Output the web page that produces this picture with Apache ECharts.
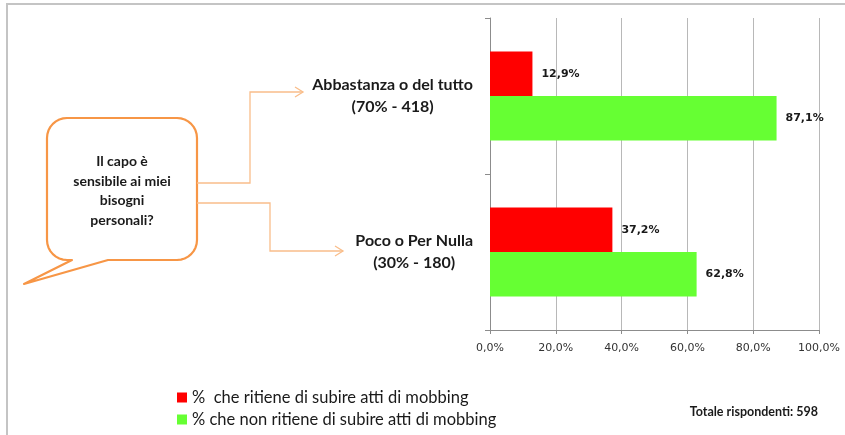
<!DOCTYPE html>
<html>
<head>
<meta charset="utf-8">
<script src="https://cdn.jsdelivr.net/npm/echarts@6/dist/echarts.min.js"></script>
<style>html,body{margin:0;padding:0;background:#fff}#c{width:845px;height:435px}</style>
</head>
<body>
<div id="c"></div>
<script>
const categories = ['Abbastanza o del tutto', 'Poco o Per Nulla'];
const categorySub = ['(70% - 418)', '(30% - 180)'];
const seriesNames = ['%  che ritiene di subire atti di mobbing', '% che non ritiene di subire atti di mobbing'];
const mobbingYes = [12.9, 37.2];
const mobbingNo = [87.1, 62.8];
const xTicks = [0, 20, 40, 60, 80, 100];
const questionText = 'Il capo è\nsensibile ai miei\nbisogni\npersonali?';
const totalText = 'Totale rispondenti: 598';

const fmt = v => v.toFixed(1).replace('.', ',') + '%';
const chart = echarts.init(document.getElementById('c'), null, {renderer: 'canvas'});
const orange = '#f79646';
const lightOrange = '#f9bd8a';

// speech bubble outline (decoration)
function arcPts(cx, cy, r, a0, a1) {
  const pts = [];
  for (let i = 0; i <= 8; i++) {
    const a = a0 + (a1 - a0) * i / 8;
    pts.push([cx + r * Math.cos(a), cy + r * Math.sin(a)]);
  }
  return pts;
}
const bx0 = 47, bx1 = 197, by0 = 118, by1 = 260, br = 20;
const bubble = [].concat(
  arcPts(bx0 + br, by0 + br, br, Math.PI, 1.5 * Math.PI),
  arcPts(bx1 - br, by0 + br, br, 1.5 * Math.PI, 2 * Math.PI),
  arcPts(bx1 - br, by1 - br, br, 0, 0.5 * Math.PI),
  [[108, by1], [24, 284], [72, by1]],
  arcPts(bx0 + br, by1 - br, br, 0.5 * Math.PI, Math.PI)
);

chart.setOption({
  animation: false,
  backgroundColor: '#fff',
  grid: {left: 490, right: 26, top: 18, bottom: 105, containLabel: false},
  xAxis: {
    type: 'value', min: xTicks[0], max: xTicks[xTicks.length - 1], interval: 20,
    axisLine: {show: true, lineStyle: {color: '#8c8c8c', width: 1}},
    axisTick: {show: true, length: 4, lineStyle: {color: '#8c8c8c'}},
    splitLine: {show: true, lineStyle: {color: '#b8b8b8', width: 1}},
    axisLabel: {formatter: v => fmt(v), fontFamily: 'DejaVu Sans', fontSize: 11, color: '#333', margin: 13}
  },
  yAxis: {
    type: 'category', inverse: true, data: categories,
    axisLine: {show: true, lineStyle: {color: '#8c8c8c', width: 1}},
    axisTick: {show: true, length: 5, lineStyle: {color: '#8c8c8c'}},
    axisLabel: {
      margin: 17, align: 'right',
      formatter: (v, i) => '{a|' + v + '}\n{a|' + categorySub[i] + '}',
      rich: {a: {align: 'center', fontFamily: 'Lato', fontWeight: 'bold', fontSize: 16, color: '#1a1a1a', lineHeight: 22}}
    }
  },
  legend: {
    orient: 'vertical', left: 177, top: 389, padding: 0, itemWidth: 10, itemHeight: 10, itemGap: 5,
    icon: 'rect',
    textStyle: {fontFamily: 'Lato', fontSize: 16.5, color: '#1a1a1a', lineHeight: 16}
  },
  title: {
    text: totalText, right: 27, top: 405, padding: 0,
    textStyle: {fontFamily: 'Lato', fontWeight: 'bold', fontSize: 12.5, color: '#1a1a1a'}
  },
  series: [
    {name: seriesNames[0], type: 'bar', data: mobbingYes, barGap: '0%', barCategoryGap: '43%',
     itemStyle: {color: '#ff0000'},
     label: {show: true, position: 'right', distance: 9, formatter: p => fmt(p.value),
       fontFamily: 'DejaVu Sans', fontWeight: 'bold', fontSize: 11, color: '#1a1a1a'}},
    {name: seriesNames[1], type: 'bar', data: mobbingNo, barGap: '0%', barCategoryGap: '43%',
     itemStyle: {color: '#66ff33'},
     label: {show: true, position: 'right', distance: 9, formatter: p => fmt(p.value),
       fontFamily: 'DejaVu Sans', fontWeight: 'bold', fontSize: 11, color: '#1a1a1a'}}
  ],
  graphic: [
    {type: 'polyline', shape: {points: [[7, 435], [7, 4], [845, 4]]}, style: {stroke: '#c4c4c4', lineWidth: 2, fill: null}, silent: true},
    {type: 'polygon', shape: {points: bubble},
     style: {stroke: orange, lineWidth: 2.2, fill: '#fff', lineJoin: 'round'}, silent: true},
    {type: 'text', x: 122, y: 152, style: {text: questionText, align: 'center', fontFamily: 'Lato', fontWeight: 'bold', fontSize: 14, lineHeight: 19.5, fill: '#1a1a1a'}, silent: true},
    {type: 'polyline', shape: {points: [[197, 183], [250, 183], [250, 92], [303, 92]]}, style: {stroke: lightOrange, lineWidth: 1.3, fill: null}, silent: true},
    {type: 'polyline', shape: {points: [[295, 87], [303, 92], [295, 97]]}, style: {stroke: lightOrange, lineWidth: 1.3, fill: null}, silent: true},
    {type: 'polyline', shape: {points: [[197, 203], [270, 203], [270, 251], [343, 251]]}, style: {stroke: lightOrange, lineWidth: 1.3, fill: null}, silent: true},
    {type: 'polyline', shape: {points: [[335, 246], [343, 251], [335, 256]]}, style: {stroke: lightOrange, lineWidth: 1.3, fill: null}, silent: true}
  ]
});
</script>
</body>
</html>
